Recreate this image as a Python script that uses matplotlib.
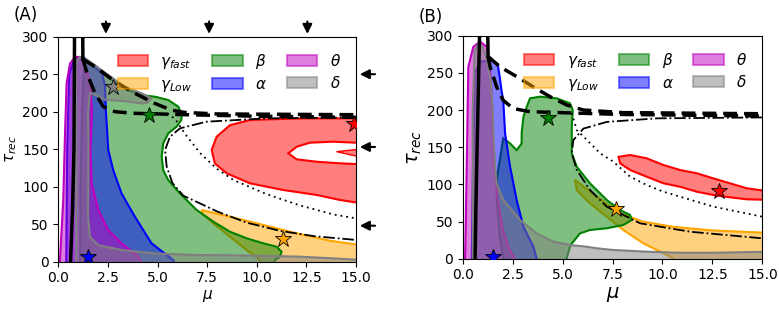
import matplotlib
matplotlib.use('Agg')
import matplotlib.pyplot as plt
from matplotlib.patches import Patch
from matplotlib.colors import to_rgba

# ---- region outlines (mu, tau_rec) ----
# panel A
a_red = [(15.5, 191.2), (12.18, 191), (9.66, 189), (8.65, 182), (7.98, 166.7), (7.73, 149),
         (7.89, 131), (8.48, 117.9), (9.66, 104.5), (11.33, 95.6), (13.02, 89), (14.19, 82.3),
         (15.5, 77)]
a_red_hole = [(15.5, 158.7), (14.95, 158.7), (13.85, 160), (12.68, 158.7), (12.01, 153.3),
              (11.59, 144.5), (12.01, 136.5), (13.02, 133.3), (14.19, 131.2), (15.5, 129.5)]
a_red_tongue = [(15.5, 151), (14.02, 146.7), (15.5, 138)]
a_orange = [(7.22, 68.9), (8.65, 60), (10.33, 49), (12.01, 37.8), (13.69, 28), (15.5, 21),
            (15.5, -5), (10.3, -5), (10.16, 2.3), (9.49, 15.6), (8.65, 33.3), (7.81, 51.2),
            (7.3, 63)]
a_green = [(1.1, -5), (1.1, 0), (1.12, 100), (1.2, 200), (1.28, 250), (1.4, 267), (2.5, 246),
           (3.4, 230), (4.2, 222), (4.87, 220), (5.54, 215.6), (6.05, 206.7), (6.22, 195.6),
           (6.2, 189), (5.96, 180), (5.54, 171), (5.29, 157.8), (5.21, 140), (5.29, 122),
           (5.54, 109), (6.13, 91), (6.97, 69), (7.81, 53.4), (8.65, 40), (9.49, 31.2),
           (10.33, 24.5), (11.0, 20), (11.25, 13.3), (11.17, 6.7), (10.92, 2.3), (10.8, -5)]
a_blue = [(0.4, -5), (0.45, 150), (0.55, 250), (0.8, 270), (1.3, 272), (1.8, 262), (2.2, 252),
          (2.35, 235), (2.4, 200), (2.47, 171), (2.52, 149), (2.77, 122), (3.19, 91),
          (3.86, 60), (4.7, 24.5), (5.79, 2.3), (5.9, -5)]
a_theta = [(0.05, -5), (0.08, 0), (0.25, 82), (0.34, 171), (0.42, 238), (0.59, 264), (0.84, 273),
           (1.09, 273), (1.3, 265), (1.6, 240), (1.7, 200), (1.62, 149), (1.68, 105),
           (2.02, 69), (2.52, 42), (3.19, 24.5), (4.03, 6.7), (4.3, -5)]
a_delta = [(0.9, -5), (0.9, 268), (1.1, 273), (1.35, 271), (1.85, 262), (2.52, 249), (3.36, 233),
           (4.2, 224.5), (4.7, 217.8), (4.5, 212), (4.2, 211), (3.36, 214), (2.35, 216),
           (1.9, 222), (1.6, 225), (1.5, 200), (1.52, 150), (1.5, 60), (1.6, 33), (2.02, 22),
           (3.19, 15.6), (4.87, 11), (6.89, 9), (9.0, 8.5), (12.18, 6.7), (13.86, 4.4),
           (15.5, 2), (15.5, -5)]

# panel B
b_red = [(7.8, 137), (8.38, 139.5), (9.21, 135), (10.05, 126), (10.88, 119.3), (11.72, 114.9),
         (12.55, 108), (13.38, 101.4), (14.22, 94.7), (15.5, 90), (15.5, 79), (14.22, 79.9),
         (13.38, 82.6), (12.55, 85.7), (11.72, 90.1), (10.88, 96.8), (10.05, 101.4),
         (9.21, 110.3), (8.38, 119.3), (7.88, 128.3)]
b_orange = [(5.62, 106), (6.0, 98), (6.5, 88), (7.2, 74), (8.0, 60), (9.0, 50), (10.5, 43),
            (12.5, 38), (15.5, 34.5), (15.5, -5), (10.6, -5), (10.55, 0), (10.05, 7.3),
            (9.04, 20.7), (8.04, 38.6), (7.21, 56.5), (6.37, 74.5), (5.71, 92)]
b_green = [(2.05, -5), (2.03, 0), (1.85, 30), (1.7, 80), (1.72, 110), (1.9, 140), (2.03, 162),
           (2.37, 155), (2.7, 146), (2.95, 155), (2.95, 169), (3.04, 191), (3.2, 204),
           (3.37, 215.7), (3.87, 218), (4.71, 215.7), (5.37, 209), (5.51, 200), (5.46, 177.5),
           (5.46, 159.6), (5.46, 141.8), (5.71, 123.7), (6.37, 101.4), (7.21, 79), (7.88, 65.5),
           (8.38, 58.8), (8.46, 52), (8.04, 45.3), (7.21, 40.9), (6.37, 38.6), (5.87, 34),
           (5.39, 18), (5.2, 0), (5.2, -5)]
b_blue = [(0.45, -5), (0.5, 100), (0.6, 250), (0.9, 265), (1.45, 267), (1.75, 262), (1.85, 245),
          (1.95, 225), (2.03, 213), (2.12, 169), (2.37, 124), (2.7, 79), (3.04, 43),
          (3.54, 16), (3.75, -5)]
b_theta = [(0.1, -5), (0.12, 0), (0.2, 124), (0.28, 258), (0.53, 285), (0.87, 292), (1.2, 285),
           (1.35, 262), (1.45, 220), (1.53, 146), (1.6, 120), (1.75, 80), (2.0, 40),
           (2.3, 15), (2.7, -5)]
b_delta = [(0.5, -5), (0.5, 200), (0.6, 280), (0.8, 290), (1.0, 285), (1.2, 270), (1.4, 240),
           (1.5, 200), (1.55, 160), (1.62, 124), (1.7, 101), (2.03, 79), (2.87, 52), (3.7, 34),
           (4.54, 23), (5.37, 18.4), (6.21, 16.1), (6.71, 14), (7.54, 11.7), (9.21, 9.4),
           (10.88, 8), (12.55, 8), (15.5, 9.4), (15.5, -5)]

# ---- bifurcation curves ----
a_solid1 = [(0.82, 310), (0.81, 250), (0.79, 150), (0.72, 70), (0.62, 0)]
a_solid2 = [(1.23, 310), (1.24, 270)]
a_dash_up = [(1.24, 270), (1.85, 260), (2.86, 240), (3.86, 224.5), (4.87, 211), (5.71, 202),
             (6.38, 199), (8.0, 197), (15.0, 196)]
a_dash_lo = [(1.24, 270), (1.35, 260), (1.51, 246.7), (1.85, 224.5), (2.27, 206.7), (2.86, 200),
             (3.86, 197.8), (5.04, 197), (6.38, 196), (10.0, 194), (15.0, 192.5)]
a_dashdot = [(15.0, 192.4), (10.5, 191.1), (7.47, 186.7), (6.13, 177.8), (5.63, 166.7),
             (5.38, 149), (5.46, 127), (5.75, 105), (6.3, 88), (7.2, 77), (8.0, 67), (9.5, 52),
             (11.2, 41), (12.9, 34), (15.0, 29)]
a_dotted = [(5.5, 198), (5.9, 190), (6.4, 170), (7.14, 145), (7.98, 124), (8.82, 109),
            (10.5, 90), (12.18, 75), (13.86, 63), (15.0, 57.8)]

b_solid1 = [(0.85, 310), (0.8, 250), (0.72, 150), (0.66, 70), (0.62, 0)]
b_solid2 = [(1.25, 310), (1.27, 272)]
b_dash_up = [(1.27, 272), (1.87, 258), (2.7, 245), (3.54, 231), (4.37, 218), (5.21, 206.7),
             (6.04, 200), (8.04, 196.5), (15.0, 195)]
b_dash_lo = [(1.27, 272), (1.37, 258), (1.7, 231), (2.03, 213), (2.53, 202), (3.37, 197.7),
             (5.5, 196), (8.0, 194), (15.0, 192)]
b_dashdot = [(15.0, 190), (9.71, 188.8), (7.21, 184), (6.04, 175), (5.54, 159.6), (5.46, 141.8),
             (5.71, 119.3), (6.37, 92.4), (7.21, 70), (8.88, 47.6), (11.38, 36.3), (15.0, 27.4)]
b_dotted = [(5.46, 196), (5.71, 173), (6.21, 160), (6.87, 142), (7.54, 130.5), (8.38, 110.3),
            (9.21, 99.1), (10.05, 90.1), (10.88, 83.4), (12.55, 70), (15.0, 56.5)]

# stars: (mu, tau, colour)
a_stars = [(1.51, 6.7, 'blue'), (2.77, 233, 'gray'), (4.57, 195.6, 'green'),
           (11.34, 30.5, 'orange'), (14.9, 183.6, 'red')]
b_stars = [(1.5, 2, 'blue'), (4.29, 188.8, 'green'), (7.66, 66.4, 'orange'),
           (12.85, 91.5, 'red')]

# arrows in panel A
top_arrows_mu = [2.4, 7.6, 12.55]
right_arrows_tau = [250, 153, 48]

labels = [r'$\gamma_{fast}$', r'$\gamma_{Low}$', r'$\beta$', r'$\alpha$', r'$\theta$', r'$\delta$']
colors = ['red', 'orange', 'green', 'blue', 'm', 'gray']


def region(ax, pts, c, face=None, lw=1.5):
    xs = [p[0] for p in pts]
    ys = [p[1] for p in pts]
    fc = to_rgba(c, 0.5) if face is None else face
    ax.fill(xs, ys, facecolor=fc, edgecolor=c, lw=lw)


def curve(ax, pts, **kw):
    ax.plot([p[0] for p in pts], [p[1] for p in pts], color='k', **kw)


def setup(ax, labsize):
    ax.set_xlim(0, 15)
    ax.set_ylim(0, 300)
    ax.set_xticks([0, 2.5, 5, 7.5, 10, 12.5, 15])
    ax.set_xticklabels(['0.0', '2.5', '5.0', '7.5', '10.0', '12.5', '15.0'])
    ax.set_yticks(range(0, 301, 50))
    ax.tick_params(labelsize=10)
    ax.set_xlabel(r'$\mu$', fontsize=labsize, labelpad=2)
    ax.set_ylabel(r'$\tau_{rec}$', fontsize=labsize, labelpad=2)
    handles = [Patch(facecolor=to_rgba(c, 0.5), edgecolor=to_rgba(c, 0.5), lw=1.5) for c in colors]
    ax.legend(handles, labels, ncol=3, loc='upper right', frameon=False, fontsize=11,
              handlelength=2.0, columnspacing=1.3, labelspacing=0.4, borderaxespad=0.6)


fig = plt.figure(figsize=(7.79, 3.10), dpi=100)
axA = fig.add_axes([0.0748, 0.1558, 0.3822, 0.7258])
axB = fig.add_axes([0.594, 0.1655, 0.3846, 0.7194])

# ---- panel A ----
region(axA, a_red, 'red')
region(axA, a_red_hole, 'red', face='white')
region(axA, a_red_tongue, 'red', lw=1.0)
region(axA, a_orange, 'orange')
region(axA, a_green, 'green')
region(axA, a_blue, 'blue')
region(axA, a_theta, 'm')
region(axA, a_delta, 'gray')

# ---- panel B ----
region(axB, b_red, 'red')
region(axB, b_orange, 'orange')
region(axB, b_green, 'green')
region(axB, b_blue, 'blue')
region(axB, b_theta, 'm')
region(axB, b_delta, 'gray')

for ax, s1, s2, du, dl, dd, dt, stars in [
        (axA, a_solid1, a_solid2, a_dash_up, a_dash_lo, a_dashdot, a_dotted, a_stars),
        (axB, b_solid1, b_solid2, b_dash_up, b_dash_lo, b_dashdot, b_dotted, b_stars)]:
    curve(ax, s1, lw=2.5)
    curve(ax, s2, lw=2.5)
    curve(ax, du, lw=2.5, ls=(0, (4, 2)))
    curve(ax, dl, lw=2.5, ls=(0, (4, 2)))
    curve(ax, dd, lw=1.3, ls='-.')
    curve(ax, dt, lw=1.3, ls=(0, (1, 2.2)))
    for mu, tau, c in stars:
        ax.plot(mu, tau, marker='*', ms=12, mfc=c, mec='k', mew=0.6, ls='none', zorder=5)

setup(axA, 11)
setup(axB, 14)

for mu in top_arrows_mu:
    axA.annotate('', xy=(mu, 300), xytext=(mu, 324), annotation_clip=False,
                 arrowprops=dict(arrowstyle='-|>', color='k', lw=1.5, mutation_scale=14))
for tau in right_arrows_tau:
    axA.annotate('', xy=(15.05, tau), xytext=(16.1, tau), annotation_clip=False,
                 arrowprops=dict(arrowstyle='-|>', color='k', lw=1.5, mutation_scale=14))

fig.text(0.018, 0.935, '(A)', fontsize=12)
fig.text(0.538, 0.93, '(B)', fontsize=12)

fig.savefig('out.png', dpi=100)
